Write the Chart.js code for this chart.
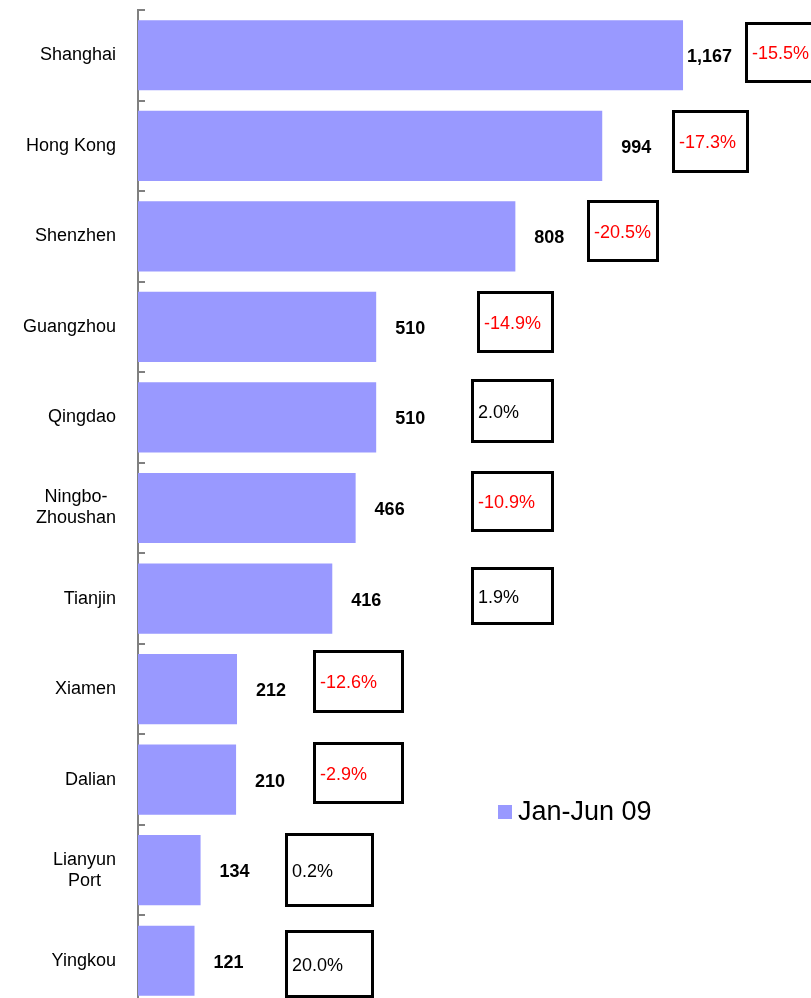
<!DOCTYPE html>
<html>
<head>
<meta charset="utf-8">
<script src="https://cdn.jsdelivr.net/npm/chart.js@4/dist/chart.umd.min.js"></script>
<style>
    html, body { margin: 0; padding: 0; background: #fff; overflow: hidden; }
    #wrap { width: 811px; height: 1006px; }
</style>
</head>
<body>
<div id="wrap"><canvas id="portChart" width="811" height="1006"></canvas></div>
<script>
// Container throughput by port, Jan-Jun 09 (10k TEU) and y/y change
const ports = ['Shanghai', 'Hong Kong', 'Shenzhen', 'Guangzhou', 'Qingdao',
    ['Ningbo-', 'Zhoushan'], 'Tianjin', 'Xiamen', 'Dalian', ['Lianyun', 'Port'], 'Yingkou'];
const throughput = [1167, 994, 808, 510, 510, 466, 416, 212, 210, 134, 121];
const changePct = [-15.5, -17.3, -20.5, -14.9, 2.0, -10.9, 1.9, -12.6, -2.9, 0.2, 20.0];
const seriesName = 'Jan-Jun 09';

const FONT = '"Liberation Sans", Arial, sans-serif';
const BAR_COLOR = '#9999ff';

// where the change boxes sit: left edge in axis units, top relative to row centre, size in px
const boxLayout = [
    [1300, -33, 80, 61], [1143, -36, 77, 63], [961, -36, 72, 62], [726, -36, 77, 62],
    [713, -38, 83, 64], [713, -37, 83, 61], [713, -32, 83, 58], [375, -39, 91, 63],
    [375, -38, 91, 62], [315, -37, 89, 74], [315, -31, 89, 68]
];

const annotations = {
    id: 'annotations',
    afterDatasetsDraw(chart) {
        const ctx = chart.ctx;
        const x = chart.scales.x;
        const y = chart.scales.y;
        const area = chart.chartArea;
        const step = y.getPixelForValue(1) - y.getPixelForValue(0);

        ctx.save();

        // small tick marks on the inside of the axis, between rows
        ctx.strokeStyle = '#808080';
        ctx.lineWidth = 2;
        for (let i = 0; i <= ports.length; i++) {
            const ty = Math.round(y.getPixelForValue(i) - step / 2);
            ctx.beginPath();
            ctx.moveTo(area.left, ty);
            ctx.lineTo(area.left + 7, ty);
            ctx.stroke();
        }

        // category labels: block right-aligned, lines centred within it
        ctx.fillStyle = '#000';
        ctx.font = '18px ' + FONT;
        ctx.textAlign = 'center';
        ctx.textBaseline = 'middle';
        ports.forEach((p, i) => {
            const lines = Array.isArray(p) ? p : [p];
            const w = Math.max(...lines.map(l => ctx.measureText(l).width));
            const cx = area.left - 22 - w / 2;
            const cy = y.getPixelForValue(i);
            lines.forEach((l, k) => {
                ctx.fillText(l, cx, cy + (k - (lines.length - 1) / 2) * 21);
            });
        });

        // value labels
        ctx.font = 'bold 18px ' + FONT;
        ctx.textAlign = 'right';
        throughput.forEach((v, i) => {
            ctx.fillText(v.toLocaleString('en-US'), x.getPixelForValue(v) + 49, y.getPixelForValue(i) + 2);
        });

        // change boxes
        ctx.font = '18px ' + FONT;
        ctx.textAlign = 'left';
        changePct.forEach((c, i) => {
            const [at, dy, w, h] = boxLayout[i];
            const bx = Math.round(x.getPixelForValue(at));
            const by = Math.round(y.getPixelForValue(i) + dy);
            ctx.fillStyle = '#fff';
            ctx.fillRect(bx, by, w, h);
            ctx.strokeStyle = '#000';
            ctx.lineWidth = 3;
            ctx.strokeRect(bx + 1.5, by + 1.5, w - 3, h - 3);
            ctx.fillStyle = c < 0 ? '#ff0000' : '#000';
            ctx.fillText(c.toFixed(1) + '%', bx + 7, by + h / 2 + 2);
        });

        // legend
        ctx.fillStyle = BAR_COLOR;
        ctx.fillRect(498, 805, 14, 14);
        ctx.fillStyle = '#000';
        ctx.font = '27px ' + FONT;
        ctx.fillText(seriesName, 518, 813);

        ctx.restore();
    }
};

new Chart(document.getElementById('portChart').getContext('2d'), {
    type: 'bar',
    data: {
        labels: ports,
        datasets: [{
            label: seriesName,
            data: throughput,
            backgroundColor: BAR_COLOR,
            borderWidth: 0,
            barPercentage: 0.775,
            categoryPercentage: 1
        }]
    },
    options: {
        indexAxis: 'y',
        responsive: false,
        animation: false,
        layout: { padding: { top: 10, right: 0, bottom: 0, left: 0 } },
        plugins: {
            legend: { display: false },
            tooltip: { enabled: false }
        },
        scales: {
            x: { display: false, min: 0, max: 1441 },
            y: {
                grid: { display: false, drawTicks: false },
                border: { display: true, color: '#808080', width: 2 },
                ticks: { display: false },
                afterFit(scale) {
                    scale.width = 138;
                    scale.paddingTop = 0;
                    scale.paddingBottom = 0;
                }
            }
        }
    },
    plugins: [annotations]
});
</script>
</body>
</html>
